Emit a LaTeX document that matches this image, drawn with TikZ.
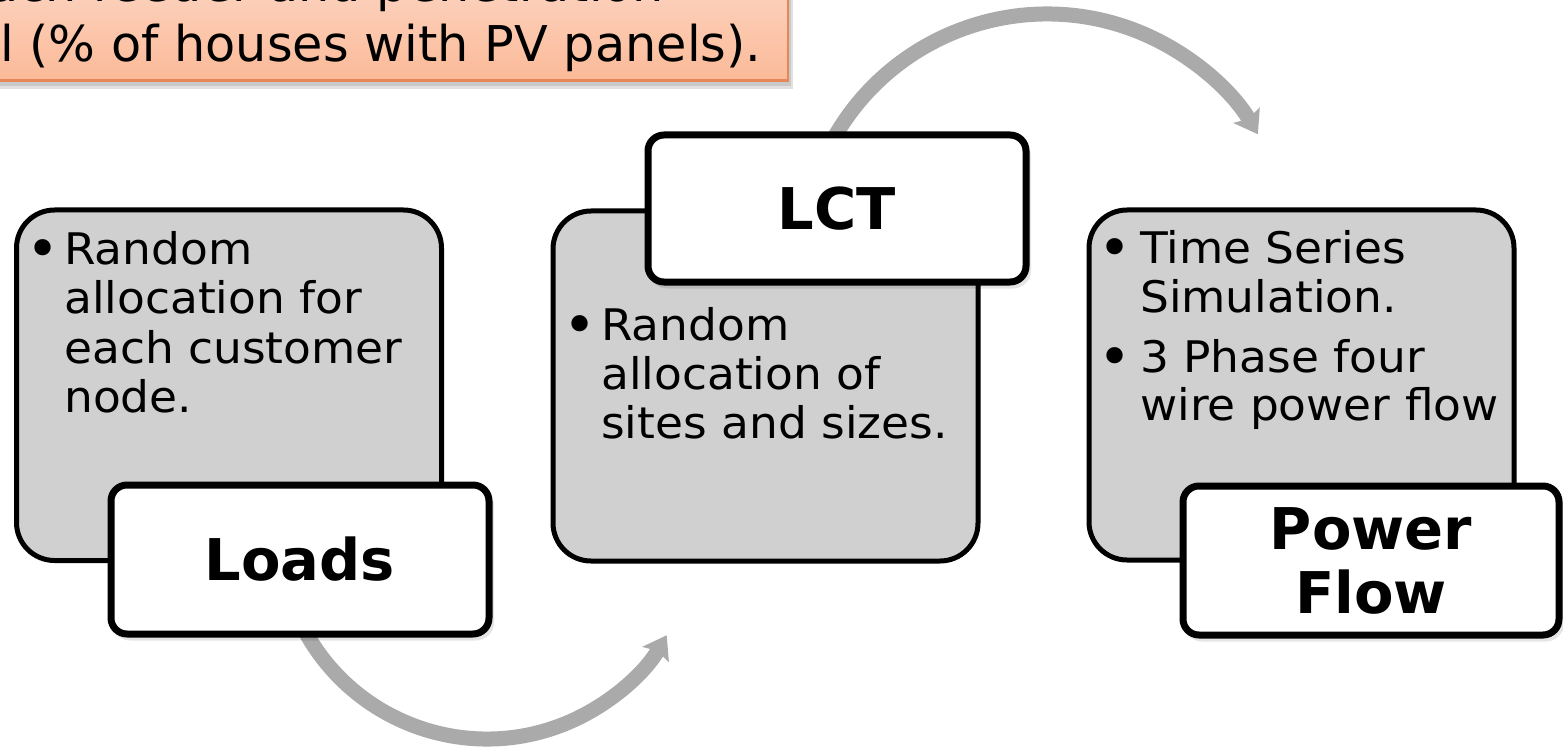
\documentclass[tikz,border=0pt]{standalone}
\usepackage{fontspec}
\setmainfont{DejaVu Sans}
\newfontfamily\bodyfont[FakeStretch=1.045]{DejaVu Sans}
\usetikzlibrary{arrows.meta}
\definecolor{boxgray}{RGB}{208,208,208}
\definecolor{arrowgray}{RGB}{170,170,170}
\definecolor{peachtop}{RGB}{253,214,196}
\definecolor{peachbot}{RGB}{251,186,152}
\definecolor{peachedge}{RGB}{230,135,90}
\tikzset{
  graybox/.style={rectangle, draw=black, line width=5pt, fill=boxgray, rounded corners=38pt, inner sep=0pt},
  whitebox/.style={rectangle, draw=black, line width=7pt, fill=white, rounded corners=16pt, inner sep=0pt,
    font=\fontsize{57.5pt}{64pt}\selectfont\bfseries, align=center},
  wshadow/.style={rectangle, fill=black, opacity=0.10, rounded corners=18pt, inner sep=0pt, draw=none},
  body/.style={inner sep=0pt, anchor=base west, font=\bodyfont\fontsize{43.5pt}{49.5pt}\selectfont},
  bul/.style={inner sep=0pt, anchor=base, yshift=-4pt, font=\fontsize{56pt}{56pt}\selectfont},
  calltext/.style={inner sep=0pt, anchor=base west, font=\fontsize{49.3pt}{58pt}\selectfont},
  flow/.style={line width=15pt, draw=arrowgray, -{Stealth[length=22pt,width=30pt,inset=4pt]}},
}
\begin{document}
\begin{tikzpicture}[x=1pt,y=1pt]
\useasboundingbox (0,0) rectangle (1563,-754);
\clip (0,0) rectangle (1563,-754);
\fill[white] (0,0) rectangle (1563,-754);

% callout (top left)
\fill[black, opacity=0.12] (-20,20) rectangle (793,-89);
\fill[black, opacity=0.10] (-20,20) rectangle (791,-86);
\node[rectangle, draw=peachedge, line width=2.5pt, top color=peachtop, bottom color=peachbot,
      minimum width=810pt, minimum height=110pt, inner sep=0pt, anchor=south east] (callout) at (789,-82) {};
\node[calltext] (call1) at (-42,-2) {each feeder and penetration};
\node[calltext] (call2) at (0,-62) {l (\% of houses with PV panels).};

% curved arrows (drawn behind boxes)
\coordinate (arcA) at (487,-531.5);
\coordinate (arcB) at (1047,-259);
\draw[flow] ([shift={(205:207.5)}]arcA) arc[start angle=205, end angle=330, radius=207.5];
\draw[flow] ([shift={(155:245)}]arcB) arc[start angle=155, end angle=30.6, radius=245];

% gray boxes
\node[graybox, minimum width=425pt, minimum height=350.5pt] (loadsG) at (229,-385.25) {};
\node[graybox, minimum width=425pt, minimum height=350pt] (lctG) at (765.5,-386) {};
\node[graybox, minimum width=425pt, minimum height=350pt] (pfG) at (1301.5,-385) {};

% Loads text
\node[bul]  (lb1) at (43,-264) {\textbullet};
\node[body] (l1) at (64,-264) {Random};
\node[body] (l2) at (64,-313.5) {allocation for};
\node[body] (l3) at (64,-363) {each customer};
\node[body] (l4) at (64,-412.5) {node.};

% LCT text
\node[bul]  (cb1) at (580,-340) {\textbullet};
\node[body] (c1) at (601,-340) {Random};
\node[body] (c2) at (601,-389) {allocation of};
\node[body] (c3) at (601,-438) {sites and sizes.};

% Power flow text
\node[bul]  (pb1) at (1115,-263.5) {\textbullet};
\node[body] (p1) at (1140,-263.5) {Time Series};
\node[body] (p2) at (1140,-312) {Simulation.};
\node[bul]  (pb2) at (1115,-372) {\textbullet};
\node[body] (p3) at (1140,-372) {3 Phase four};
\node[body] (p4) at (1140,-420.5) {wire power flow};

% white label boxes with shadows
\node[wshadow, minimum width=382pt, minimum height=153pt] (loadsS) at (303,-564) {};
\node[wshadow, minimum width=382pt, minimum height=151pt] (lctS) at (840,-213) {};
\node[wshadow, minimum width=380pt, minimum height=153pt] (pfS) at (1374,-565) {};
\node[whitebox, minimum width=378pt, minimum height=149pt] (loadsW) at (300,-559.5) {Loads};
\node[whitebox, minimum width=378pt, minimum height=147pt] (lctW) at (837,-208.5) {LCT};
\node[whitebox, minimum width=376pt, minimum height=149pt] (pfW) at (1371,-560.5) {Power\\Flow};
\end{tikzpicture}
\end{document}
